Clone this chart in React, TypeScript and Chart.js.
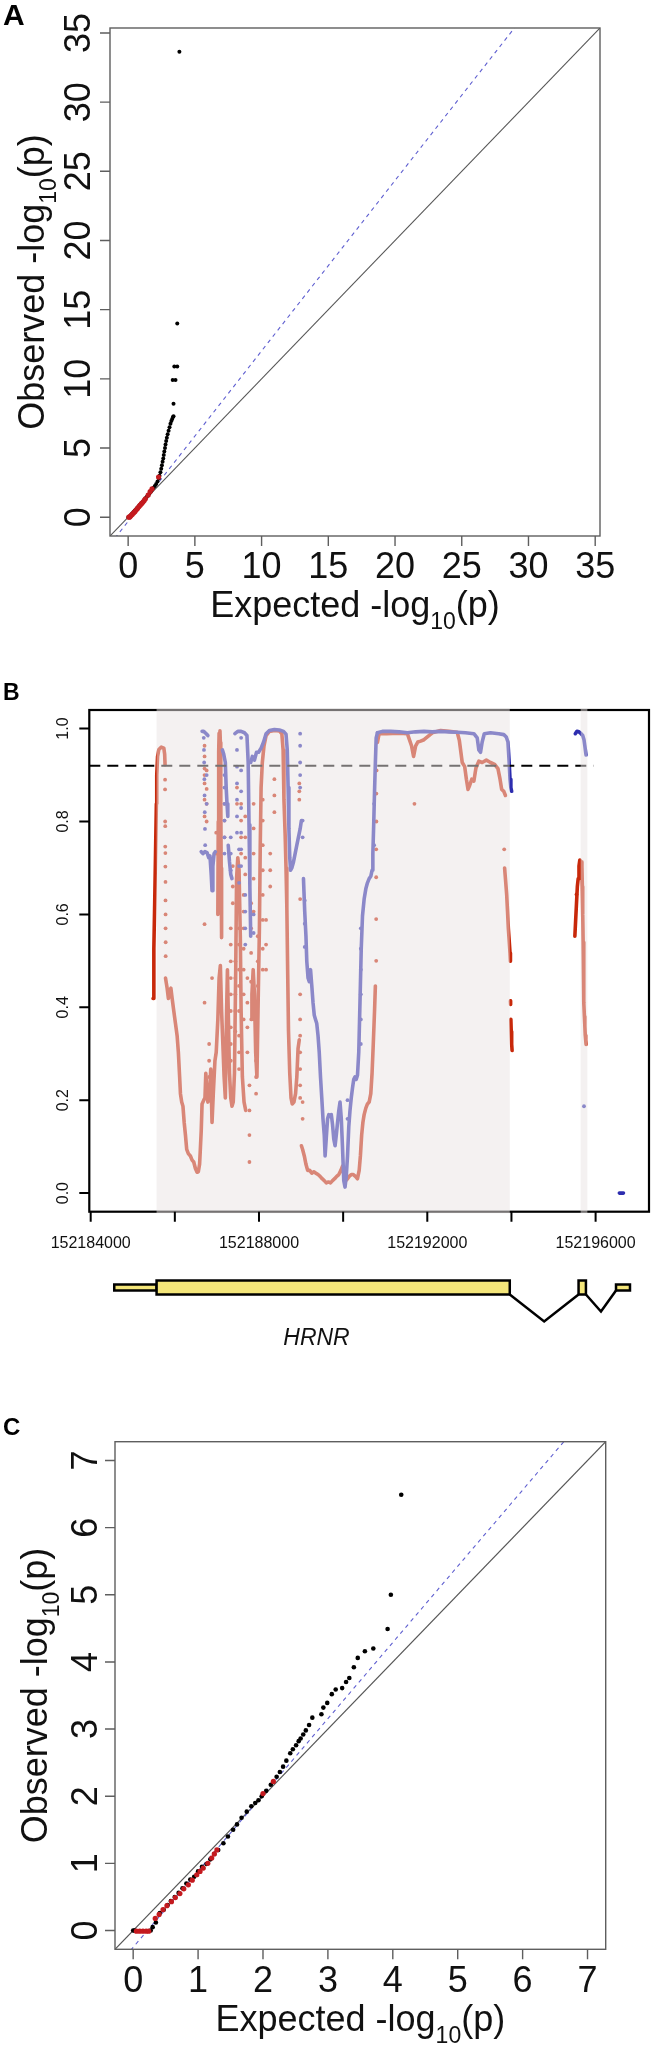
import React, { useEffect, useRef } from 'react';
import { Chart, registerables } from 'chart.js';
Chart.register(...registerables);

const FONT = '"Liberation Sans", Arial, Helvetica, sans-serif';

// ---------------- Panel A: QQ plot ----------------
const qqATicks = [0, 5, 10, 15, 20, 25, 30, 35];
const qqALimits = [-1.36, 35.36];
const qqAFit = [1.232, -0.3]; // slope, intercept of dashed line
const qqABlack: [number, number][] = [
  [0.02, 0.0], [0.1, 0.05], [0.2, 0.15], [0.3, 0.27], [0.4, 0.37], [0.5, 0.48], [0.6, 0.58], [0.7, 0.7],
  [0.8, 0.8], [0.9, 0.92], [1.0, 1.02], [1.1, 1.12], [1.2, 1.24], [1.3, 1.36], [1.4, 1.48], [1.5, 1.6],
  [1.6, 1.72], [1.7, 1.85], [1.8, 1.98], [1.9, 2.12], [2.0, 2.25], [2.1, 2.4], [2.2, 2.58], [2.3, 2.8],
  [2.35, 3.0], [2.42, 3.25], [2.48, 3.5], [2.53, 3.75], [2.58, 4.0], [2.63, 4.25], [2.67, 4.5], [2.71, 4.75],
  [2.76, 5.0], [2.8, 5.25], [2.85, 5.5], [2.9, 5.75], [2.96, 6.0], [3.03, 6.25], [3.1, 6.5], [3.17, 6.75],
  [3.24, 6.95], [3.3, 7.1], [3.36, 7.25], [3.4, 7.3], [3.4, 8.2], [3.34, 9.92], [3.55, 9.92], [3.46, 10.9],
  [3.68, 10.9], [3.68, 14.0], [3.84, 33.65],
];
const qqARed: [number, number][] = [
  [0.05, 0.0], [0.12, 0.02], [0.2, 0.1], [0.3, 0.2], [0.4, 0.3], [0.5, 0.4], [0.6, 0.52], [0.7, 0.63],
  [0.8, 0.75], [0.9, 0.87], [1.0, 0.98], [1.1, 1.08], [1.2, 1.2], [1.29, 1.33], [1.5, 1.6], [1.65, 1.85],
  [1.79, 2.05], [2.28, 2.9],
];

// ---------------- Panel C: QQ plot ----------------
const qqCTicks = [0, 1, 2, 3, 4, 5, 6, 7];
const qqCLimits = [-0.28, 7.28];
const qqCFit = [1.135, -0.25];
const qqCBlack: [number, number][] = [
  [0, 0], [0.02, 0], [0.27, 0.0], [0.3, 0.05], [0.35, 0.12], [0.41, 0.26], [0.47, 0.31], [0.53, 0.38],
  [0.58, 0.44], [0.64, 0.5], [0.7, 0.56], [0.76, 0.63], [0.82, 0.7], [0.88, 0.76], [0.94, 0.8], [1.0, 0.88],
  [1.06, 0.95], [1.13, 0.99], [1.19, 1.06], [1.25, 1.14], [1.31, 1.2], [1.39, 1.3], [1.46, 1.4], [1.54, 1.5],
  [1.6, 1.58], [1.67, 1.68], [1.75, 1.77], [1.82, 1.85], [1.88, 1.9], [1.93, 1.94], [1.98, 2.0], [2.05, 2.08],
  [2.12, 2.17], [2.21, 2.29], [2.26, 2.36], [2.31, 2.44], [2.36, 2.53], [2.42, 2.64], [2.46, 2.7], [2.51, 2.76],
  [2.55, 2.82], [2.58, 2.86], [2.62, 2.92], [2.66, 2.98], [2.71, 3.06], [2.76, 3.17], [2.9, 3.22], [2.93, 3.32],
  [2.99, 3.39], [3.06, 3.52], [3.12, 3.59], [3.22, 3.61], [3.28, 3.7], [3.33, 3.76], [3.4, 3.92], [3.46, 4.06],
  [3.57, 4.16], [3.7, 4.2], [3.92, 4.49], [3.97, 5.0], [4.13, 6.49],
];
const qqCRed: [number, number][] = [
  [0.05, -0.01], [0.1, -0.01], [0.15, -0.01], [0.2, -0.01], [0.24, -0.01], [0.34, 0.18], [0.4, 0.24], [0.46, 0.31],
  [0.52, 0.37], [0.59, 0.43], [0.65, 0.49], [0.72, 0.55], [0.78, 0.62], [0.85, 0.68], [0.91, 0.75], [0.98, 0.83],
  [1.03, 0.88], [1.08, 0.93], [1.15, 1.0], [1.21, 1.08], [1.25, 1.14], [1.29, 1.2], [2.0, 2.04], [2.16, 2.22],
];

// ---------------- Panel B: LD along HRNR ----------------
const ldTicks = [0, 0.2, 0.4, 0.6, 0.8, 1.0];
const ldLimits = [-0.04, 1.04];
const posTicks = [152184000, 152186000, 152188000, 152190000, 152192000, 152194000, 152196000];
const posLabels = [152184000, 152188000, 152192000, 152196000];
const posLimits = [152183967, 152197269];
const ldThreshold = 0.92;
const thresholdRange = [152183967, 152195950];
const shadedRegions: [number, number][] = [[152185566, 152193960], [152195645, 152195804]];
// [start, end, coding(1) / UTR(0)]
const hrnrExons: [number, number, number][] = [
  [152184560, 152185566, 0], [152185566, 152193960, 1], [152195595, 152195770, 1], [152196485, 152196817, 0],
];
const geneName = 'HRNR';

const redRuns: [number, number][][] = [
  [[152185482, 0.419], [152185501, 0.526], [152185521, 0.624], [152185541, 0.731], [152185561, 0.838], [152185570, 0.9], [152185590, 0.94], [152185620, 0.955], [152185679, 0.96], [152185738, 0.958], [152185758, 0.945], [152185768, 0.922]],
  [[152185778, 0.463], [152185817, 0.441], [152185847, 0.419], [152185877, 0.437], [152185906, 0.441], [152185936, 0.419], [152185975, 0.392], [152186015, 0.365], [152186054, 0.339], [152186084, 0.303], [152186114, 0.25], [152186133, 0.214], [152186163, 0.196], [152186193, 0.187], [152186222, 0.152], [152186252, 0.125], [152186282, 0.094], [152186321, 0.085], [152186370, 0.08], [152186410, 0.071], [152186449, 0.067], [152186489, 0.053], [152186529, 0.045], [152186558, 0.046], [152186588, 0.062], [152186608, 0.098], [152186627, 0.134], [152186647, 0.192], [152186687, 0.2], [152186716, 0.205], [152186736, 0.258], [152186766, 0.214], [152186785, 0.196], [152186825, 0.214], [152186854, 0.267], [152186884, 0.152], [152186914, 0.214], [152186953, 0.285], [152186983, 0.303], [152187022, 0.374], [152187052, 0.463], [152187082, 0.49], [152187111, 0.392], [152187141, 0.321], [152187171, 0.25], [152187200, 0.205], [152187230, 0.392], [152187250, 0.481], [152187269, 0.392], [152187299, 0.258], [152187329, 0.205], [152187358, 0.187], [152187388, 0.196], [152187417, 0.258], [152187447, 0.481], [152187467, 0.677], [152187496, 0.722], [152187526, 0.695], [152187556, 0.553], [152187575, 0.392], [152187605, 0.25], [152187645, 0.196], [152187684, 0.178]],
  [[152187022, 0.6], [152187032, 0.8], [152187042, 0.95], [152187052, 0.99], [152187072, 0.995], [152187082, 0.97], [152187092, 0.85], [152187101, 0.7], [152187111, 0.55]],
  [[152187813, 0.374], [152187832, 0.428], [152187862, 0.481], [152187892, 0.428], [152187921, 0.303], [152187951, 0.25], [152187980, 0.41], [152188010, 0.57], [152188030, 0.749], [152188050, 0.873], [152188079, 0.927], [152188119, 0.963], [152188168, 0.985], [152188247, 0.994], [152188366, 0.996], [152188484, 0.995], [152188543, 0.989], [152188573, 0.954], [152188593, 0.847], [152188622, 0.77], [152188642, 0.7], [152188662, 0.615], [152188681, 0.48], [152188701, 0.35], [152188731, 0.258], [152188761, 0.205], [152188790, 0.192], [152188830, 0.196], [152188869, 0.214], [152188899, 0.25], [152188929, 0.312], [152188958, 0.33]],
  [[152189008, 0.102], [152189037, 0.094], [152189077, 0.08], [152189116, 0.062], [152189156, 0.049], [152189205, 0.049], [152189255, 0.043], [152189304, 0.046], [152189353, 0.043], [152189403, 0.04], [152189452, 0.036], [152189501, 0.031], [152189551, 0.027], [152189600, 0.022], [152189650, 0.024], [152189699, 0.022], [152189748, 0.027], [152189798, 0.031], [152189847, 0.036], [152189897, 0.04], [152189946, 0.049], [152189985, 0.058], [152190025, 0.036], [152190064, 0.027], [152190104, 0.031], [152190143, 0.036], [152190193, 0.04], [152190242, 0.04], [152190292, 0.036], [152190341, 0.031], [152190381, 0.049], [152190410, 0.08], [152190440, 0.125], [152190469, 0.152], [152190499, 0.169], [152190539, 0.183], [152190578, 0.192], [152190618, 0.196], [152190657, 0.214], [152190687, 0.258], [152190716, 0.321], [152190746, 0.392], [152190766, 0.446]],
  [[152190815, 0.97], [152190855, 0.989], [152191032, 0.989], [152191329, 0.99], [152191526, 0.989], [152191625, 0.963], [152191674, 0.94], [152191724, 0.963], [152191773, 0.971], [152191842, 0.973], [152191921, 0.976], [152192119, 0.991], [152192316, 0.996], [152192514, 0.994], [152192711, 0.992], [152192761, 0.975], [152192830, 0.927], [152192889, 0.918], [152192929, 0.891], [152192968, 0.869], [152193008, 0.878], [152193057, 0.891], [152193107, 0.887], [152193156, 0.915], [152193225, 0.93], [152193304, 0.927], [152193403, 0.932], [152193502, 0.927], [152193600, 0.923], [152193679, 0.914], [152193729, 0.891], [152193768, 0.869], [152193818, 0.865], [152193857, 0.856]],
  [[152193837, 0.7], [152193857, 0.677], [152193887, 0.642], [152193907, 0.606], [152193926, 0.57], [152193946, 0.544], [152193966, 0.517], [152193976, 0.499]],
  [[152193976, 0.414], [152193980, 0.406]],
  [[152193986, 0.374], [152193995, 0.348], [152194005, 0.321], [152194015, 0.307]],
  [[152195507, 0.553], [152195526, 0.588], [152195546, 0.624], [152195566, 0.66], [152195586, 0.677], [152195605, 0.704], [152195625, 0.717], [152195655, 0.713], [152195675, 0.704], [152195685, 0.66], [152195694, 0.6], [152195704, 0.54], [152195714, 0.48], [152195719, 0.44], [152195724, 0.41], [152195734, 0.38], [152195744, 0.36], [152195754, 0.34], [152195764, 0.33], [152195773, 0.32]],
];

const redDots: [number, number][] = [
  [152185768, 0.89], [152185768, 0.869], [152185770, 0.8], [152185772, 0.79], [152185772, 0.746], [152185775, 0.732], [152185775, 0.703], [152185778, 0.67], [152185778, 0.63], [152185780, 0.6], [152185780, 0.57], [152185782, 0.54], [152185782, 0.51],
  [152186706, 0.41], [152186706, 0.579], [152186706, 0.811], [152186706, 0.847], [152186706, 0.882], [152186706, 0.9], [152186706, 0.914], [152186706, 0.94], [152186706, 0.963],
  [152186756, 0.91], [152186756, 0.87], [152186756, 0.838], [152186756, 0.8],
  [152186815, 0.214], [152186815, 0.25], [152186815, 0.285], [152186815, 0.321],
  [152186884, 0.463], [152186983, 0.776], [152186983, 0.731],
  [152187180, 0.838], [152187180, 0.802], [152187180, 0.766],
  [152187329, 0.57], [152187329, 0.535], [152187329, 0.499], [152187329, 0.463], [152187329, 0.428], [152187329, 0.392], [152187329, 0.357], [152187329, 0.321], [152187329, 0.285],
  [152187378, 0.704], [152187378, 0.66], [152187378, 0.624],
  [152187437, 0.499], [152187437, 0.463], [152187437, 0.428], [152187437, 0.392], [152187437, 0.348],
  [152187477, 0.873], [152187477, 0.838],
  [152187526, 0.606], [152187526, 0.57], [152187526, 0.535], [152187526, 0.481], [152187526, 0.446], [152187526, 0.392], [152187526, 0.339], [152187526, 0.303], [152187526, 0.267],
  [152187575, 0.838], [152187575, 0.802], [152187575, 0.766], [152187575, 0.731],
  [152187635, 0.642], [152187635, 0.606], [152187635, 0.57], [152187635, 0.526], [152187635, 0.481], [152187635, 0.428], [152187635, 0.374],
  [152187674, 0.811], [152187674, 0.766], [152187674, 0.722], [152187674, 0.686],
  [152187724, 0.463], [152187724, 0.41], [152187724, 0.357], [152187724, 0.303],
  [152187773, 0.232], [152187773, 0.178], [152187773, 0.125], [152187773, 0.067],
  [152187813, 0.624], [152187813, 0.57], [152187813, 0.517], [152187813, 0.455],
  [152187872, 0.838], [152187872, 0.785], [152187872, 0.731], [152187872, 0.677], [152187872, 0.606],
  [152187931, 0.32], [152187931, 0.285], [152187931, 0.25], [152187931, 0.214],
  [152187971, 0.553], [152187971, 0.499], [152187971, 0.446],
  [152188089, 0.847], [152188089, 0.802], [152188089, 0.749], [152188089, 0.695], [152188089, 0.642], [152188089, 0.588], [152188089, 0.526], [152188089, 0.481],
  [152188168, 0.588], [152188168, 0.535], [152188168, 0.481],
  [152188267, 0.731], [152188267, 0.695], [152188267, 0.66],
  [152188366, 0.891], [152188366, 0.856], [152188366, 0.82],
  [152188958, 0.882], [152188958, 0.865], [152188958, 0.847],
  [152188978, 0.633], [152188978, 0.428], [152188978, 0.374], [152188978, 0.339], [152188978, 0.303], [152188978, 0.267], [152188978, 0.232], [152188978, 0.205],
  [152189037, 0.196], [152189037, 0.16],
  [152190785, 0.5], [152190785, 0.59], [152190785, 0.68], [152190785, 0.74], [152190790, 0.8], [152190790, 0.86], [152190795, 0.91],
  [152191694, 0.838], [152193828, 0.74], [152195546, 0.643],
];

const blueRuns: [number, number][][] = [
  [[152186627, 0.735], [152186667, 0.731], [152186716, 0.735], [152186766, 0.733], [152186805, 0.722], [152186835, 0.726], [152186864, 0.686], [152186884, 0.651], [152186904, 0.704], [152186933, 0.731], [152186963, 0.735]],
  [[152186647, 0.994], [152186687, 0.994], [152186746, 0.989], [152186785, 0.985]],
  [[152187131, 0.954], [152187161, 0.945], [152187200, 0.927], [152187220, 0.873], [152187240, 0.838], [152187259, 0.811]],
  [[152187269, 0.749], [152187299, 0.713], [152187329, 0.686], [152187358, 0.677]],
  [[152187427, 0.989], [152187496, 0.994], [152187575, 0.994], [152187654, 0.991], [152187714, 0.985], [152187743, 0.927], [152187763, 0.793], [152187783, 0.66], [152187803, 0.553]],
  [[152187803, 0.927], [152187842, 0.94], [152187892, 0.932], [152187941, 0.949], [152187990, 0.949], [152188050, 0.958], [152188109, 0.971], [152188168, 0.989], [152188247, 0.996], [152188366, 0.998], [152188484, 0.997], [152188583, 0.994], [152188642, 0.988], [152188672, 0.954], [152188692, 0.873], [152188711, 0.784], [152188731, 0.722], [152188751, 0.695], [152188780, 0.7], [152188820, 0.713], [152188859, 0.731], [152188899, 0.749], [152188939, 0.767], [152188978, 0.784], [152189008, 0.802]],
  [[152189057, 0.677], [152189087, 0.606], [152189116, 0.553], [152189136, 0.499], [152189166, 0.463], [152189195, 0.455], [152189225, 0.481], [152189255, 0.446], [152189284, 0.41], [152189314, 0.383], [152189343, 0.374], [152189373, 0.365], [152189403, 0.339], [152189432, 0.303], [152189462, 0.25], [152189492, 0.205], [152189521, 0.16], [152189551, 0.125], [152189571, 0.08], [152189600, 0.12], [152189630, 0.16], [152189660, 0.169], [152189689, 0.165], [152189719, 0.169], [152189748, 0.147], [152189778, 0.116], [152189808, 0.102], [152189837, 0.125], [152189867, 0.152], [152189897, 0.178], [152189926, 0.196], [152189956, 0.16], [152189985, 0.098], [152190015, 0.027], [152190045, 0.013], [152190074, 0.036], [152190104, 0.08], [152190134, 0.143], [152190163, 0.178], [152190193, 0.205], [152190223, 0.227], [152190252, 0.245], [152190282, 0.25], [152190311, 0.245], [152190341, 0.254], [152190371, 0.303], [152190400, 0.41], [152190430, 0.526], [152190460, 0.597], [152190499, 0.633], [152190539, 0.655], [152190578, 0.668], [152190618, 0.677], [152190657, 0.682], [152190687, 0.695], [152190706, 0.731], [152190726, 0.793], [152190746, 0.865], [152190766, 0.927], [152190785, 0.98], [152190815, 0.991]],
  [[152190815, 0.991], [152190934, 0.994], [152191131, 0.994], [152191329, 0.993], [152191526, 0.991], [152191724, 0.993], [152191921, 0.994], [152192119, 0.993], [152192316, 0.994], [152192514, 0.993], [152192711, 0.992], [152192909, 0.991], [152193107, 0.989], [152193186, 0.98], [152193225, 0.954], [152193265, 0.949], [152193304, 0.971], [152193354, 0.989], [152193502, 0.991], [152193699, 0.989], [152193818, 0.987], [152193877, 0.982], [152193917, 0.971], [152193946, 0.927], [152193966, 0.891], [152193986, 0.873], [152194005, 0.865]],
  [[152195517, 0.989], [152195556, 0.994], [152195605, 0.993], [152195655, 0.989], [152195694, 0.985], [152195724, 0.976], [152195744, 0.963], [152195764, 0.949], [152195773, 0.943]],
  [[152196564, 0.0], [152196662, 0.0]],
];

const blueDots: [number, number][] = [
  [152186687, 0.98], [152186692, 0.954], [152186697, 0.927], [152186702, 0.891], [152186706, 0.856], [152186711, 0.82], [152186716, 0.784], [152186721, 0.749],
  [152186756, 0.9], [152186756, 0.838],
  [152187180, 0.9], [152187180, 0.873], [152187180, 0.838], [152187180, 0.802], [152187180, 0.766], [152187180, 0.731],
  [152187329, 0.766], [152187329, 0.731], [152187329, 0.695],
  [152187477, 0.954], [152187477, 0.918], [152187477, 0.882], [152187477, 0.847], [152187477, 0.811], [152187477, 0.776],
  [152187526, 0.74], [152187526, 0.704], [152187526, 0.668],
  [152187575, 0.98], [152187575, 0.91], [152187575, 0.865], [152187575, 0.829], [152187575, 0.776], [152187575, 0.74], [152187575, 0.704],
  [152187674, 0.642], [152187674, 0.606], [152187674, 0.57], [152187674, 0.535],
  [152187872, 0.56], [152187872, 0.6],
  [152188978, 0.989], [152188978, 0.963], [152188978, 0.927], [152188978, 0.9], [152188978, 0.873],
  [152189037, 0.802], [152189037, 0.766],
  [152189087, 0.63], [152189087, 0.58], [152189087, 0.53],
  [152190104, 0.16], [152190104, 0.2],
  [152190420, 0.57], [152190420, 0.526], [152190420, 0.481], [152190420, 0.428], [152190420, 0.374], [152190420, 0.321],
  [152190736, 0.749], [152190736, 0.838],
  [152195724, 0.187],
];

// ---------------- drawing helpers ----------------
const RED = '#c8280a';
const BLUE = '#2d2daf';
const QQ_RED = '#c41a1f';

function drawSubTitle(ctx: any, main: string, sub: string, tail: string, cx: number, cy: number, rotated: boolean, size: number) {
  const subSize = Math.round(size * 0.64);
  ctx.save();
  ctx.translate(cx, cy);
  if (rotated) ctx.rotate(-Math.PI / 2);
  ctx.textAlign = 'left';
  ctx.textBaseline = 'alphabetic';
  ctx.font = `${size}px ${FONT}`;
  const w1 = ctx.measureText(main).width;
  const w3 = ctx.measureText(tail).width;
  ctx.font = `${subSize}px ${FONT}`;
  const w2 = ctx.measureText(sub).width;
  let x = -(w1 + w2 + w3) / 2;
  ctx.font = `${size}px ${FONT}`;
  ctx.fillText(main, x, 0);
  x += w1;
  ctx.font = `${subSize}px ${FONT}`;
  ctx.fillText(sub, x, size * 0.34);
  x += w2;
  ctx.font = `${size}px ${FONT}`;
  ctx.fillText(tail, x, 0);
  ctx.restore();
}

function rotatedText(ctx: any, text: string, x: number, y: number) {
  ctx.save();
  ctx.translate(x, y);
  ctx.rotate(-Math.PI / 2);
  ctx.textAlign = 'center';
  ctx.textBaseline = 'alphabetic';
  ctx.fillText(text, 0, 0);
  ctx.restore();
}

type QQStyle = {
  ticks: number[]; yTickBase: number; xTickBase: number; xTitleBase: number; yTitleBase: number;
  letter: string; letterSize: number; letterBase: number;
};

function qqPlugin(st: QQStyle) {
  return {
    id: 'qqFrame',
    afterDraw(chart: any) {
      const { ctx, chartArea: a } = chart;
      const xs = chart.scales.x;
      const ys = chart.scales.y;
      ctx.save();
      ctx.strokeStyle = '#5e5e5e';
      ctx.lineWidth = 1.4;
      ctx.strokeRect(a.left, a.top, a.right - a.left, a.bottom - a.top);
      ctx.beginPath();
      for (const t of st.ticks) {
        const px = xs.getPixelForValue(t);
        ctx.moveTo(px, a.bottom);
        ctx.lineTo(px, a.bottom + 10);
        const py = ys.getPixelForValue(t);
        ctx.moveTo(a.left, py);
        ctx.lineTo(a.left - 10, py);
      }
      ctx.stroke();
      ctx.fillStyle = '#111';
      ctx.font = `36px ${FONT}`;
      ctx.textAlign = 'center';
      ctx.textBaseline = 'alphabetic';
      for (const t of st.ticks) {
        ctx.fillText(String(t), xs.getPixelForValue(t), st.xTickBase);
        rotatedText(ctx, String(t), st.yTickBase, ys.getPixelForValue(t));
      }
      drawSubTitle(ctx, 'Expected -log', '10', '(p)', (a.left + a.right) / 2, st.xTitleBase, false, 36);
      drawSubTitle(ctx, 'Observed -log', '10', '(p)', st.yTitleBase, (a.top + a.bottom) / 2, true, 36);
      ctx.font = `bold ${st.letterSize}px ${FONT}`;
      ctx.textAlign = 'left';
      ctx.fillStyle = '#000';
      ctx.fillText(st.letter, 3, st.letterBase);
      ctx.restore();
    },
  };
}

function makeQQ(canvas: HTMLCanvasElement, black: [number, number][], red: [number, number][], lim: number[], fit: number[], pad: any, st: QQStyle, rBlack: number, rRed: number) {
  const pts = (arr: [number, number][]) => arr.map(([x, y]) => ({ x, y }));
  return new Chart(canvas, {
    type: 'scatter',
    data: {
      datasets: [
        { data: pts(red), pointRadius: rRed, backgroundColor: QQ_RED, borderWidth: 0, order: 0 } as any,
        { data: pts(black), pointRadius: rBlack, backgroundColor: '#000', borderWidth: 0, order: 1 },
        {
          data: [{ x: lim[0], y: fit[0] * lim[0] + fit[1] }, { x: lim[1], y: fit[0] * lim[1] + fit[1] }],
          showLine: true, borderColor: '#5f5fd0', borderWidth: 1.1, borderDash: [4, 4], pointRadius: 0, order: 2,
        },
        {
          data: [{ x: lim[0], y: lim[0] }, { x: lim[1], y: lim[1] }],
          showLine: true, borderColor: '#555', borderWidth: 1.1, pointRadius: 0, order: 3,
        },
      ],
    },
    options: {
      responsive: false, animation: false, devicePixelRatio: 1, events: [],
      layout: { padding: pad },
      plugins: { legend: { display: false }, tooltip: { enabled: false } },
      scales: {
        x: { type: 'linear', min: lim[0], max: lim[1], display: false },
        y: { type: 'linear', min: lim[0], max: lim[1], display: false },
      },
    } as any,
    plugins: [qqPlugin(st)],
  });
}

const ldPlugin = {
  id: 'ldFrame',
  beforeDatasetsDraw(chart: any) {
    const { ctx, chartArea: a } = chart;
    ctx.save();
    ctx.strokeStyle = '#000';
    ctx.lineWidth = 2.2;
    ctx.strokeRect(a.left, a.top, a.right - a.left, a.bottom - a.top);
    ctx.restore();
  },
  afterDatasetsDraw(chart: any) {
    const { ctx, chartArea: a } = chart;
    const xs = chart.scales.x;
    const ys = chart.scales.y;
    ctx.save();
    // translucent shading over the exon regions
    ctx.fillStyle = 'rgba(234,228,228,0.5)';
    for (const [s, e] of shadedRegions) {
      const x1 = xs.getPixelForValue(s);
      const x2 = xs.getPixelForValue(e);
      ctx.fillRect(x1, a.top - 1.5, x2 - x1, a.bottom - a.top + 3);
    }
    // ticks
    ctx.strokeStyle = '#000';
    ctx.lineWidth = 2;
    ctx.beginPath();
    for (const t of posTicks) {
      const px = xs.getPixelForValue(t);
      ctx.moveTo(px, a.bottom);
      ctx.lineTo(px, a.bottom + 10);
    }
    for (const t of ldTicks) {
      const py = ys.getPixelForValue(t);
      ctx.moveTo(a.left, py);
      ctx.lineTo(a.left - 10, py);
    }
    ctx.stroke();
    ctx.fillStyle = '#111';
    ctx.font = `16px ${FONT}`;
    ctx.textAlign = 'center';
    ctx.textBaseline = 'alphabetic';
    for (const t of posLabels) ctx.fillText(String(t), xs.getPixelForValue(t), a.bottom + 36);
    for (const t of ldTicks) rotatedText(ctx, t.toFixed(1), a.left - 21, ys.getPixelForValue(t));

    // gene model
    const cy = 607.5;
    ctx.lineWidth = 2.5;
    ctx.strokeStyle = '#000';
    ctx.lineJoin = 'miter';
    const depths = [34, 24];
    let k = 0;
    for (let i = 0; i < hrnrExons.length - 1; i++) {
      const cur = hrnrExons[i];
      const nxt = hrnrExons[i + 1];
      if (nxt[0] - cur[1] > 50) {
        const hA = cur[2] ? 7 : 3;
        const hB = nxt[2] ? 7 : 3;
        const x1 = xs.getPixelForValue(cur[1]);
        const x2 = xs.getPixelForValue(nxt[0]);
        ctx.beginPath();
        ctx.moveTo(x1, cy + hA);
        ctx.lineTo((x1 + x2) / 2, cy + depths[k]);
        ctx.lineTo(x2, cy + hB);
        ctx.stroke();
        k++;
      }
    }
    ctx.fillStyle = '#f4e67a';
    for (const [s, e, c] of hrnrExons) {
      const h = c ? 7 : 3;
      const x1 = xs.getPixelForValue(s);
      const x2 = xs.getPixelForValue(e);
      ctx.fillRect(x1, cy - h, x2 - x1, 2 * h);
      ctx.strokeRect(x1, cy - h, x2 - x1, 2 * h);
    }
    ctx.fillStyle = '#111';
    ctx.font = `italic 23px ${FONT}`;
    ctx.textAlign = 'center';
    ctx.fillText(geneName, 316.5, 665);

    ctx.font = `bold 23px ${FONT}`;
    ctx.textAlign = 'left';
    ctx.fillStyle = '#000';
    ctx.fillText('B', 3, 20);
    ctx.restore();
  },
};

function makeLD(canvas: HTMLCanvasElement) {
  const pts = (arr: [number, number][]) => arr.map(([x, y]) => ({ x, y }));
  const runDs = (run: [number, number][], color: string, order: number) => ({
    data: pts(run), showLine: true, borderColor: color, backgroundColor: color, borderWidth: 3.6,
    borderCapStyle: 'round', borderJoinStyle: 'round', pointRadius: 0, order,
  });
  const datasets: any[] = [
    {
      data: [{ x: thresholdRange[0], y: ldThreshold }, { x: thresholdRange[1], y: ldThreshold }],
      showLine: true, borderColor: '#000', borderWidth: 2, borderDash: [11, 7], pointRadius: 0, order: 0,
    },
    ...blueRuns.map((r) => runDs(r, BLUE, 1)),
    { data: pts(blueDots), pointRadius: 1.9, backgroundColor: BLUE, borderWidth: 0, order: 1 },
    ...redRuns.map((r) => runDs(r, RED, 2)),
    { data: pts(redDots), pointRadius: 1.9, backgroundColor: RED, borderWidth: 0, order: 2 },
  ];
  return new Chart(canvas, {
    type: 'scatter',
    data: { datasets },
    options: {
      responsive: false, animation: false, devicePixelRatio: 1, events: [],
      layout: { padding: { left: 89.3, top: 30, right: 3.3, bottom: 168.3 } },
      plugins: { legend: { display: false }, tooltip: { enabled: false } },
      scales: {
        x: { type: 'linear', min: posLimits[0], max: posLimits[1], display: false },
        y: { type: 'linear', min: ldLimits[0], max: ldLimits[1], display: false },
      },
    } as any,
    plugins: [ldPlugin],
  });
}

export default function App() {
  const refA = useRef<HTMLCanvasElement>(null);
  const refB = useRef<HTMLCanvasElement>(null);
  const refC = useRef<HTMLCanvasElement>(null);

  useEffect(() => {
    const charts: Chart[] = [];
    if (refA.current) {
      charts.push(makeQQ(refA.current, qqABlack, qqARed, qqALimits, qqAFit,
        { left: 110, top: 28, right: 53, bottom: 144 },
        { ticks: qqATicks, yTickBase: 90, xTickBase: 578, xTitleBase: 617, yTitleBase: 44, letter: 'A', letterSize: 30, letterBase: 25 },
        2, 2.6));
    }
    if (refB.current) charts.push(makeLD(refB.current));
    if (refC.current) {
      charts.push(makeQQ(refC.current, qqCBlack, qqCRed, qqCLimits, qqCFit,
        { left: 115, top: 61.7, right: 47.3, bottom: 96.7 },
        { ticks: qqCTicks, yTickBase: 96.7, xTickBase: 611.7, xTitleBase: 651, yTitleBase: 47, letter: 'C', letterSize: 24, letterBase: 55 },
        2.3, 2.6));
    }
    return () => charts.forEach((c) => c.destroy());
  }, []);

  return (
    <div style={{ position: 'absolute', left: 0, top: 0, width: 653, height: 2046, background: '#fff' }}>
      <canvas ref={refA} width={653} height={680} style={{ position: 'absolute', left: 0, top: 0 }} />
      <canvas ref={refB} width={653} height={700} style={{ position: 'absolute', left: 0, top: 680 }} />
      <canvas ref={refC} width={653} height={666} style={{ position: 'absolute', left: 0, top: 1380 }} />
    </div>
  );
}
